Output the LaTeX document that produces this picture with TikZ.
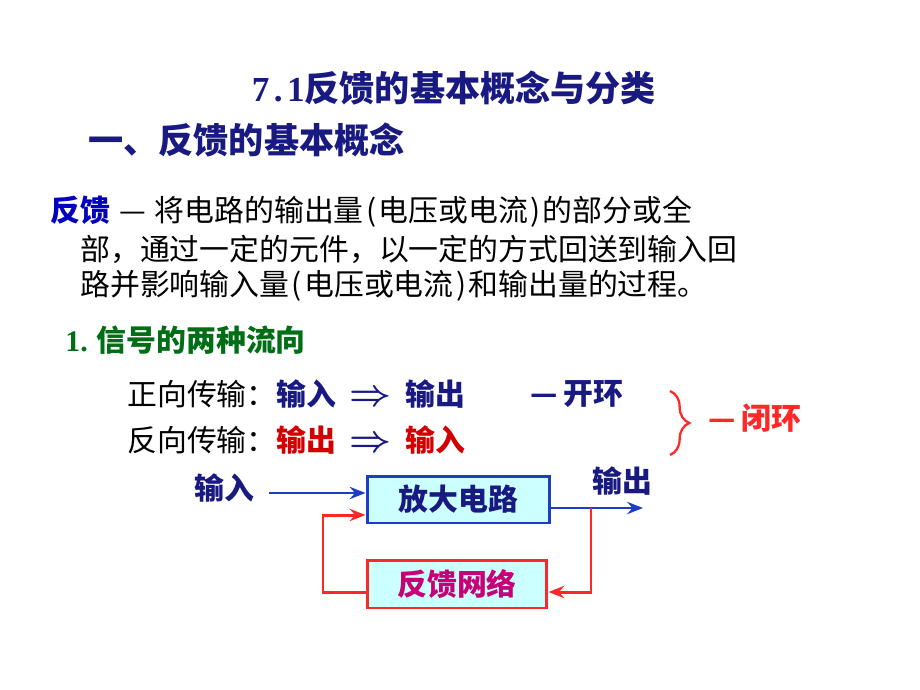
\documentclass[tikz,border=0pt]{standalone}
\usepackage{fontspec}
\setmainfont{Noto Sans CJK SC}
\newfontfamily\numfont{Liberation Serif}
\usetikzlibrary{arrows.meta,decorations.pathreplacing}

\definecolor{navy}{RGB}{25,25,130}
\definecolor{keyblue}{RGB}{0,0,190}
\definecolor{headgreen}{RGB}{0,110,20}
\definecolor{backred}{RGB}{210,0,0}
\definecolor{loopred}{RGB}{255,40,40}
\definecolor{wireblue}{RGB}{30,60,200}
\definecolor{boxcyan}{RGB}{204,255,255}
\definecolor{netpink}{RGB}{200,0,120}

% half-width brackets, digits and arrow, as in the slide font
\newcommand{\lbr}{\makebox[0.5em][c]{(}}
\newcommand{\rbr}{\makebox[0.5em][c]{)}}
\newcommand{\hw}[1]{\makebox[0.5em][c]{\numfont #1}}
\newcommand{\goes}{\hspace{0.45em}{\fontsize{22}{22}\selectfont\boldmath$\Rightarrow$}\hspace{0.45em}}

\tikzset{
  title/.style={text=navy, font=\fontsize{20}{24}\selectfont\bfseries, inner sep=0pt},
  body/.style={font=\fontsize{17}{20}\selectfont, inner sep=0pt, anchor=west},
  ampbox/.style={draw=wireblue, line width=1.7pt, fill=boxcyan, minimum width=3.66cm,
    minimum height=0.94cm, text=navy, font=\fontsize{17}{20}\selectfont\bfseries},
  netbox/.style={draw=loopred, line width=1.7pt, fill=boxcyan, minimum width=3.6cm,
    minimum height=0.96cm, text=netpink, font=\fontsize{17}{20}\selectfont\bfseries},
  fwdline/.style={draw=wireblue, line width=1.6pt, -{Stealth[length=9pt,width=7pt,inset=3pt]}},
  fbline/.style={draw=loopred, line width=1.7pt, -{Stealth[length=9pt,width=7pt,inset=3pt]}},
  taglabel/.style={text=navy, font=\fontsize{17}{20}\selectfont\bfseries, inner sep=0pt}
}

\begin{document}
\begin{tikzpicture}[x=0.02cm, y=-0.02cm]
  \useasboundingbox (0,0) rectangle (920,690);

  % headings
  \node[title] (head) at (454,88) {\hw{7}\hw{.}\hw{1}反馈的基本概念与分类};
  \node[title, anchor=west] (sub) at (88,140) {一、反馈的基本概念};

  % definition
  \node[body] (def1) at (50,212) {{\color{keyblue}\bfseries 反馈}\hspace{0.3em}—\hspace{0.3em}将电路的输出量\lbr 电压或电流\rbr 的部分或全};
  \node[body] (def2) at (80,249) {部，通过一定的元件，以一定的方式回送到输入回};
  \node[body] (def3) at (80,286) {路并影响输入量\lbr 电压或电流\rbr 和输出量的过程。};

  \node[body, text=headgreen, font=\fontsize{17}{20}\selectfont\bfseries] (flow) at (65,340)
    {{\numfont 1.}\hspace{0.3em}信号的两种流向};

  % two directions
  \node[body] (fwd) at (127,394) {正向传输：{\color{navy}\bfseries 输入\goes 输出}};
  \node[body] (bwd) at (127,440) {反向传输：{\color{backred}\bfseries 输出}{\color{navy}\goes}{\color{backred}\bfseries 输入}};
  \node[body, text=navy, font=\fontsize{17}{20}\selectfont\bfseries] (open) at (530,394) {—\hspace{0.2em}开环};
  \draw[loopred, line width=1.3pt, decoration={brace, amplitude=11pt}, decorate]
    (670,391) -- (670,455);
  \node[body, text=loopred, font=\fontsize{17}{20}\selectfont\bfseries] (closed) at (708,418) {—\hspace{0.2em}闭环};

  % block diagram
  \node[ampbox] (amp) at (458.5,499.5) {放大电路};
  \node[netbox] (net) at (457,584) {反馈网络};

  \node[taglabel, anchor=west] (inlab) at (194,488) {输入};
  \node[taglabel] (outlab) at (622,481) {输出};

  \coordinate (src) at (269,493);
  \coordinate (tap) at (591,508);
  \coordinate (sink) at (643,508);
  \coordinate (fbrow) at (0,592);
  \coordinate (bend) at (323,515);

  \draw[fwdline] (src) -- (src -| amp.west);
  \draw[fwdline] (tap -| amp.east) -- (sink);
  \draw[fbline] (tap) |- (fbrow -| net.east);
  \draw[fbline] (fbrow -| net.west) -| (bend) -- (bend -| amp.west);

\end{tikzpicture}
\end{document}
